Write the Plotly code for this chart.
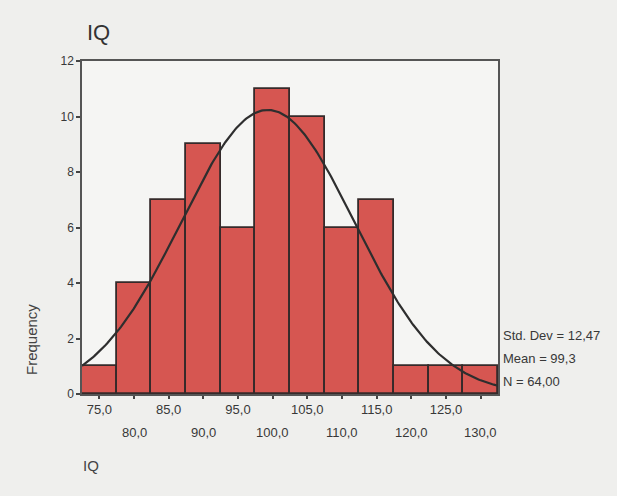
import numpy as np
import plotly.graph_objects as go

bin_centers = [75, 80, 85, 90, 95, 100, 105, 110, 115, 120, 125, 130]
frequencies = [1, 4, 7, 9, 6, 11, 10, 6, 7, 1, 1, 1]
tick_labels = ["75,0", "80,0", "85,0", "90,0", "95,0", "100,0", "105,0",
               "110,0", "115,0", "120,0", "125,0", "130,0"]
y_ticks = [0, 2, 4, 6, 8, 10, 12]
std_dev = 12.47
mean = 99.3
n = 64
bin_width = 5

W, H = 617, 496
L, R, T, B = 82, 119, 61, 102
pw = W - L - R
ph = H - T - B


def px_x(x):
    return (x - L) / pw


def px_y(y):
    return (H - B - y) / ph


fig = go.Figure()
fig.add_trace(go.Bar(
    x=bin_centers, y=frequencies, width=bin_width,
    marker=dict(color="#d65651", line=dict(color="#352a2a", width=1.8)),
    showlegend=False, hoverinfo="skip"))

xs = np.linspace(bin_centers[0] - bin_width / 2, bin_centers[-1] + bin_width / 2, 300)
ys = n * bin_width / (std_dev * np.sqrt(2 * np.pi)) * np.exp(-0.5 * ((xs - mean) / std_dev) ** 2)
fig.add_trace(go.Scatter(x=xs, y=ys, mode="lines",
                         line=dict(color="#2e2e2e", width=2.2), showlegend=False, hoverinfo="skip"))

ticktext = [t if i % 2 == 0 else "" for i, t in enumerate(tick_labels)]

txt = "#383838"
annotations = [
    dict(text="IQ", x=px_x(85), y=px_y(33), font=dict(size=22, color="#333"),
         xanchor="left", yanchor="middle"),
    dict(text="Frequency", x=px_x(31), y=px_y(340), textangle=-90,
         font=dict(size=15, color="#444"), xanchor="center", yanchor="middle"),
    dict(text="IQ", x=px_x(81), y=px_y(465), font=dict(size=15, color="#444"),
         xanchor="left", yanchor="middle"),
    dict(text="Std. Dev = " + f"{std_dev:.2f}".replace(".", ","),
         x=px_x(501), y=px_y(335), font=dict(size=13, color=txt),
         xanchor="left", yanchor="middle"),
    dict(text="Mean = " + f"{mean:.1f}".replace(".", ","), x=px_x(501), y=px_y(358),
         font=dict(size=13, color=txt), xanchor="left", yanchor="middle"),
    dict(text="N = " + f"{n:.2f}".replace(".", ","), x=px_x(501), y=px_y(381),
         font=dict(size=13, color=txt), xanchor="left", yanchor="middle"),
]
for i, t in enumerate(tick_labels):
    if i % 2 == 1:
        annotations.append(dict(text=t, x=bin_centers[i], xref="x", y=px_y(433),
                                font=dict(size=13, color=txt),
                                xanchor="center", yanchor="middle"))
for a in annotations:
    a.setdefault("xref", "paper")
    a["yref"] = "paper"
    a["showarrow"] = False

fig.update_layout(
    width=W, height=H,
    margin=dict(l=L, r=R, t=T, b=B),
    paper_bgcolor="#efefed",
    plot_bgcolor="#f5f5f3",
    font=dict(family="Liberation Sans, Arial, sans-serif", color="#333333", size=12),
    bargap=0,
    xaxis=dict(range=[bin_centers[0] - bin_width / 2, bin_centers[-1] + bin_width / 2],
               tickvals=bin_centers, ticktext=ticktext,
               ticks="outside", ticklen=3, tickcolor="#444", tickwidth=1.5,
               showline=True, linecolor="#555555", linewidth=1.5, mirror=True,
               showgrid=False, zeroline=False, tickfont=dict(size=13, color=txt)),
    yaxis=dict(range=[0, 12], tickvals=y_ticks,
               ticks="outside", ticklen=4, tickcolor="#444", tickwidth=1.5,
               showline=True, linecolor="#555555", linewidth=1.5, mirror=True,
               showgrid=False, zeroline=False, tickfont=dict(size=12, color=txt)),
    annotations=annotations,
)

fig.write_html("out.html", config={"displayModeBar": False},
               post_script="document.body.style.margin='0';")
